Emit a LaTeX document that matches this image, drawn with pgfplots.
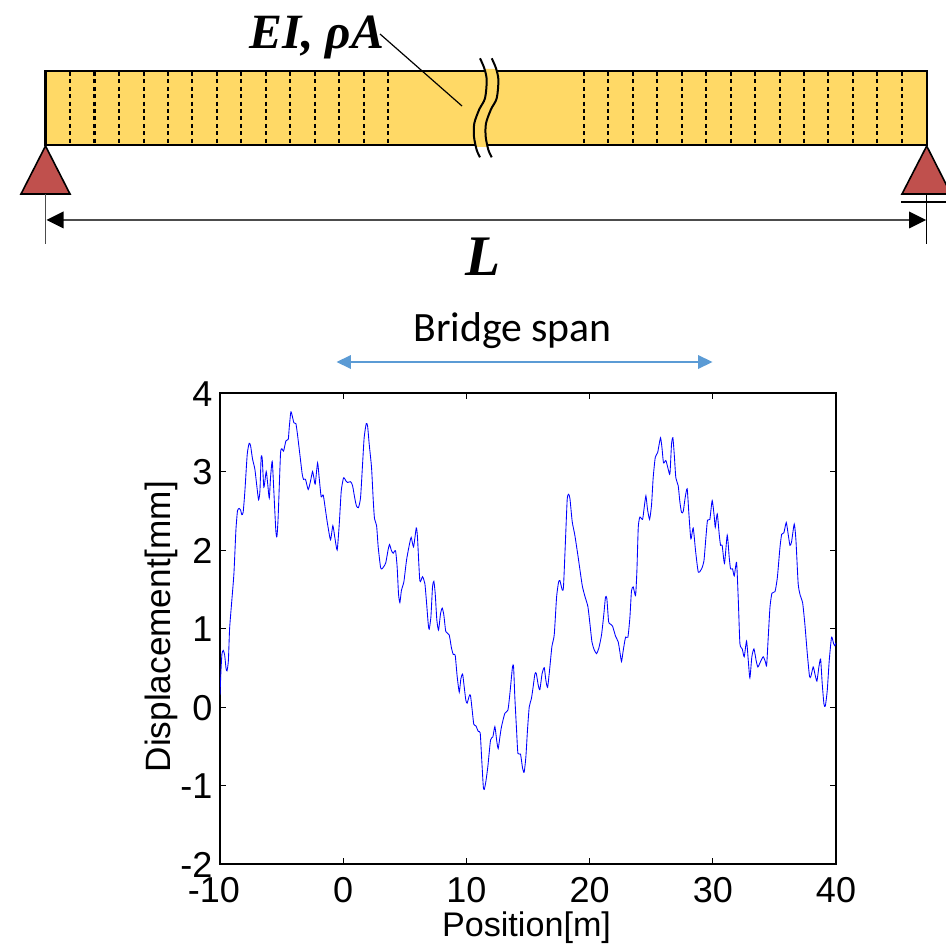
\documentclass[border=0pt]{standalone}
\usepackage{fontspec}
\usepackage{pgfplots}
\pgfplotsset{compat=1.18}
\setmainfont{Liberation Sans}
\newfontfamily\spanfont{Carlito}
\newfontfamily\beamfont{Liberation Serif}
\definecolor{beamfill}{HTML}{FFD966}
\definecolor{supportred}{HTML}{C0504D}
\definecolor{spanblue}{HTML}{5B9BD5}
\begin{document}
\begin{tikzpicture}
\useasboundingbox (0,0) rectangle (709.5pt,707.25pt);
% schematic, in pixel-like coordinates of a hidden axis
\begin{axis}[
  at={(0,0)},anchor=south west,scale only axis,width=709.5pt,height=707.25pt,
  hide axis,xmin=0,xmax=946,ymin=0,ymax=943,y dir=reverse,clip=true]
\addplot[fill=beamfill,draw=none] coordinates {(45.5,71)(926.7,71)(926.7,145)(45.5,145)} --cycle;
\pgfplotsinvokeforeach{70,94.5,119,143.7,168,192.3,217,241.3,266,290.3,314.7,339.3,363.7,388.3,584,608.3,632.7,657.3,681.7,706.3,730.7,755.3,779.7,804,828.3,853,877.3,902}{
  \addplot[black,line width=1.6pt,dash pattern=on 3pt off 2.55pt] coordinates {(#1,72)(#1,144)};
}
\addplot[black,line width=1.75pt] coordinates {(45.5,71)(926.7,71)(926.7,145)(45.5,145)} --cycle;
\addplot[fill=beamfill,draw=none] coordinates {(484.7,69)(486.7,80)(485,98.3)(479.3,109.3)(474.3,123.3)(474,136.7)(475.5,147)(487.2,147)(485.7,136.7)(486,123.3)(491,109.3)(496.7,98.3)(498.4,80)(496.4,69)} --cycle;
\addplot[black,line width=1.5pt,smooth] coordinates {(480,58.3)(484.3,68.3)(486.7,80)(485,98.3)(479.3,109.3)(474.3,123.3)(474,136.7)(476.7,150)(480,157.3)};
\addplot[black,line width=1.5pt,smooth] coordinates {(491.7,58.3)(496,68.3)(498.4,80)(496.7,98.3)(491,109.3)(486,123.3)(485.7,136.7)(488.4,150)(491.7,157.3)};
\addplot[black,line width=0.9pt] coordinates {(380,34)(462,106)};
% supports
\addplot[fill=supportred,draw=black,line width=1.2pt] coordinates {(45.5,146)(70,194)(21,194)} --cycle;
\addplot[fill=supportred,draw=black,line width=1.2pt] coordinates {(926.7,146)(951,194)(902,194)} --cycle;
\addplot[black,line width=1.2pt] coordinates {(901,202)(946,202)};
\addplot[black!70,line width=0.6pt] coordinates {(45.5,194)(45.5,244)};
\addplot[black,line width=0.7pt] coordinates {(926.7,194)(926.7,244)};
% dimension arrow
\addplot[black!70,line width=1pt] coordinates {(55,220)(918,220)};
\addplot[fill=black,draw=none] coordinates {(46.5,220)(63.5,211.5)(63.5,228.5)} --cycle;
\addplot[fill=black,draw=none] coordinates {(926,220)(909,211.5)(909,228.5)} --cycle;
% span arrow
\addplot[spanblue,line width=1.1pt] coordinates {(348,362)(700,362)};
\addplot[fill=spanblue,draw=none] coordinates {(336.7,362)(350.8,355)(350.8,369)} --cycle;
\addplot[fill=spanblue,draw=none] coordinates {(712.5,362)(698,355)(698,369)} --cycle;
\node[anchor=base west,inner sep=0pt] at (axis cs:249,48.3) {\fontsize{37pt}{42pt}\selectfont\beamfont\bfseries\itshape EI, ρA};
\node[anchor=base west,inner sep=0pt] at (axis cs:465,276) {\fontsize{43pt}{48pt}\selectfont\beamfont\bfseries\itshape L};
\node[anchor=base,inner sep=0pt] at (axis cs:512.5,341.7) {\fontsize{31.3pt}{35pt}\selectfont\spanfont Bridge span};
\end{axis}
% measured chart
\begin{axis}[
  at={(165pt,59.25pt)},anchor=south west,scale only axis,width=462pt,height=353.25pt,
  xmin=-10,xmax=40,ymin=-2,ymax=4,
  axis line style={black,line width=1.1pt},
  xtick={-10,0,10,20,30,40},
  xticklabels={-10\kern9pt,0,10,20,30,40},
  ytick={-2,-1,0,1,2,3,4},
  yticklabels={-2,-1,0,1,2,3,4},
  tick align=inside,tick pos=both,
  major tick length=4.5pt,
  every tick/.style={black,line width=0.7pt},
  tick label style={font=\fontsize{27pt}{30pt}\selectfont,inner sep=0pt},
  xticklabel style={yshift=-9.5pt},
  yticklabel style={xshift=-5.5pt,yshift=-0.8pt},
  xlabel={Position[m]},ylabel={Displacement[mm]},
  every axis x label/.style={at={(axis description cs:0.4976,0)},anchor=base,yshift=-54pt,font=\fontsize{25.6pt}{28pt}\selectfont},
  every axis y label/.style={at={(axis description cs:0,0.504)},xshift=-37.5pt,rotate=90,anchor=base,font=\fontsize{26.4pt}{28pt}\selectfont},
  clip=true]
\addplot[color={rgb,1:red,0;green,0;blue,1},line width=0.65pt,smooth,tension=0.35] coordinates {
(-10,0.15)(-9.92,0.47)(-9.84,0.68)(-9.73,0.72)(-9.62,0.66)(-9.51,0.49)(-9.43,0.46)(-9.32,0.59)(-9.22,1.0)(-9.06,1.32)(-8.87,1.70)(-8.71,2.25)(-8.58,2.50)(-8.44,2.53)(-8.33,2.51)(-8.23,2.45)(-8.12,2.48)(-7.98,2.75)(-7.79,3.22)(-7.63,3.36)(-7.52,3.33)(-7.36,3.16)(-7.17,3.03)(-7.03,2.84)(-6.87,2.64)(-6.76,2.75)(-6.66,3.18)(-6.57,3.16)(-6.44,2.80)(-6.25,3.0)(-6.14,2.86)(-6.0,2.66)(-5.9,2.92)(-5.76,3.13)(-5.63,2.75)(-5.47,2.25)(-5.38,2.17)(-5.28,2.42)(-5.09,3.22)(-4.98,3.29)(-4.84,3.26)(-4.65,3.39)(-4.46,3.41)(-4.38,3.56)(-4.25,3.76)(-4.14,3.71)(-4.0,3.62)(-3.84,3.61)(-3.71,3.47)(-3.52,3.22)(-3.33,2.97)(-3.22,2.90)(-3.06,2.90)(-2.84,2.77)(-2.65,2.88)(-2.49,3.0)(-2.38,2.92)(-2.27,2.84)(-2.08,3.11)(-1.95,2.92)(-1.79,2.68)(-1.62,2.70)(-1.43,2.50)(-1.27,2.33)(-1.03,2.13)(-0.84,2.31)(-0.68,2.16)(-0.49,2.0)(-0.32,2.33)(-0.16,2.75)(0.03,2.92)(0.22,2.88)(0.35,2.86)(0.60,2.87)(0.76,2.82)(0.95,2.65)(1.08,2.56)(1.24,2.54)(1.41,2.67)(1.57,3.09)(1.70,3.43)(1.87,3.61)(1.98,3.58)(2.11,3.35)(2.30,3.05)(2.44,2.63)(2.54,2.40)(2.71,2.31)(2.84,2.04)(3.03,1.78)(3.14,1.76)(3.30,1.79)(3.46,1.84)(3.63,1.99)(3.76,2.07)(3.92,1.99)(4.06,1.96)(4.25,1.99)(4.38,1.78)(4.49,1.44)(4.60,1.33)(4.73,1.49)(4.92,1.59)(5.14,1.87)(5.36,2.06)(5.52,2.16)(5.71,2.04)(5.93,2.28)(6.03,2.16)(6.22,1.61)(6.44,1.66)(6.63,1.57)(6.77,1.32)(6.90,1.06)(6.98,0.99)(7.12,1.15)(7.25,1.53)(7.36,1.60)(7.47,1.44)(7.60,1.11)(7.74,0.98)(7.90,1.19)(8.04,1.26)(8.17,1.17)(8.33,0.96)(8.60,0.92)(8.79,0.75)(8.93,0.67)(9.09,0.66)(9.25,0.39)(9.42,0.19)(9.55,0.36)(9.69,0.42)(9.79,0.30)(9.95,0.09)(10.06,0.05)(10.23,0.14)(10.33,0.15)(10.47,-0.04)(10.60,-0.22)(10.77,-0.24)(10.96,-0.31)(11.12,-0.33)(11.23,-0.63)(11.37,-1.01)(11.45,-1.05)(11.58,-0.95)(11.74,-0.76)(11.96,-0.42)(12.15,-0.38)(12.31,-0.25)(12.47,-0.44)(12.58,-0.53)(12.72,-0.38)(12.85,-0.25)(13.12,-0.08)(13.37,-0.04)(13.53,0.17)(13.74,0.51)(13.83,0.51)(13.93,0.13)(14.07,-0.29)(14.18,-0.59)(14.39,-0.60)(14.56,-0.78)(14.69,-0.83)(14.83,-0.63)(14.96,-0.29)(15.10,0.0)(15.28,0.11)(15.42,0.26)(15.56,0.42)(15.67,0.43)(15.83,0.28)(15.96,0.22)(16.15,0.43)(16.32,0.50)(16.45,0.34)(16.59,0.25)(16.75,0.47)(16.94,0.77)(17.13,0.92)(17.32,1.40)(17.48,1.59)(17.59,1.61)(17.78,1.49)(17.88,1.53)(18.02,2.04)(18.18,2.64)(18.29,2.71)(18.40,2.66)(18.59,2.36)(18.80,2.19)(19.07,1.91)(19.40,1.55)(19.62,1.41)(19.86,1.28)(20.02,1.07)(20.19,0.83)(20.37,0.73)(20.56,0.68)(20.75,0.75)(20.97,0.92)(21.16,1.19)(21.29,1.40)(21.40,1.38)(21.54,1.09)(21.65,1.06)(21.86,1.03)(22.11,0.90)(22.32,0.83)(22.46,0.70)(22.59,0.58)(22.73,0.72)(22.92,0.89)(23.11,0.89)(23.27,1.14)(23.40,1.48)(23.54,1.53)(23.73,1.42)(23.84,1.74)(23.95,2.29)(24.08,2.42)(24.30,2.39)(24.43,2.54)(24.57,2.69)(24.70,2.52)(24.87,2.39)(25.03,2.58)(25.16,2.92)(25.33,3.18)(25.52,3.24)(25.65,3.35)(25.76,3.43)(25.87,3.31)(26.0,3.11)(26.19,3.14)(26.38,3.03)(26.52,2.97)(26.65,3.35)(26.76,3.43)(26.87,3.22)(27.0,2.92)(27.19,2.82)(27.33,2.61)(27.46,2.48)(27.60,2.49)(27.76,2.67)(27.92,2.78)(28.06,2.46)(28.22,2.14)(28.41,2.28)(28.60,1.99)(28.82,1.72)(29.09,1.76)(29.28,1.86)(29.44,2.16)(29.57,2.38)(29.76,2.39)(29.95,2.63)(30.12,2.42)(30.20,2.29)(30.36,2.46)(30.52,2.20)(30.63,2.06)(30.76,2.06)(30.95,1.83)(31.17,2.19)(31.33,1.91)(31.44,1.76)(31.60,1.76)(31.74,1.67)(31.93,1.84)(32.07,1.36)(32.20,0.81)(32.39,0.74)(32.55,0.64)(32.74,0.84)(32.88,0.59)(33.01,0.37)(33.17,0.64)(33.34,0.74)(33.52,0.59)(33.66,0.51)(33.88,0.58)(34.09,0.64)(34.26,0.58)(34.37,0.53)(34.50,0.89)(34.64,1.27)(34.80,1.45)(35.05,1.47)(35.24,1.65)(35.45,2.03)(35.59,2.20)(35.77,2.22)(35.96,2.35)(36.10,2.22)(36.26,2.06)(36.39,2.10)(36.61,2.33)(36.75,2.12)(36.93,1.57)(37.10,1.42)(37.29,1.33)(37.47,1.06)(37.67,0.68)(37.85,0.39)(37.96,0.39)(38.15,0.51)(38.29,0.42)(38.45,0.33)(38.61,0.51)(38.75,0.61)(38.88,0.30)(39.02,0.04)(39.13,0.01)(39.29,0.21)(39.45,0.59)(39.64,0.89)(39.80,0.81)(39.91,0.78)(40.0,0.82)};
\end{axis}
\end{tikzpicture}
\end{document}
